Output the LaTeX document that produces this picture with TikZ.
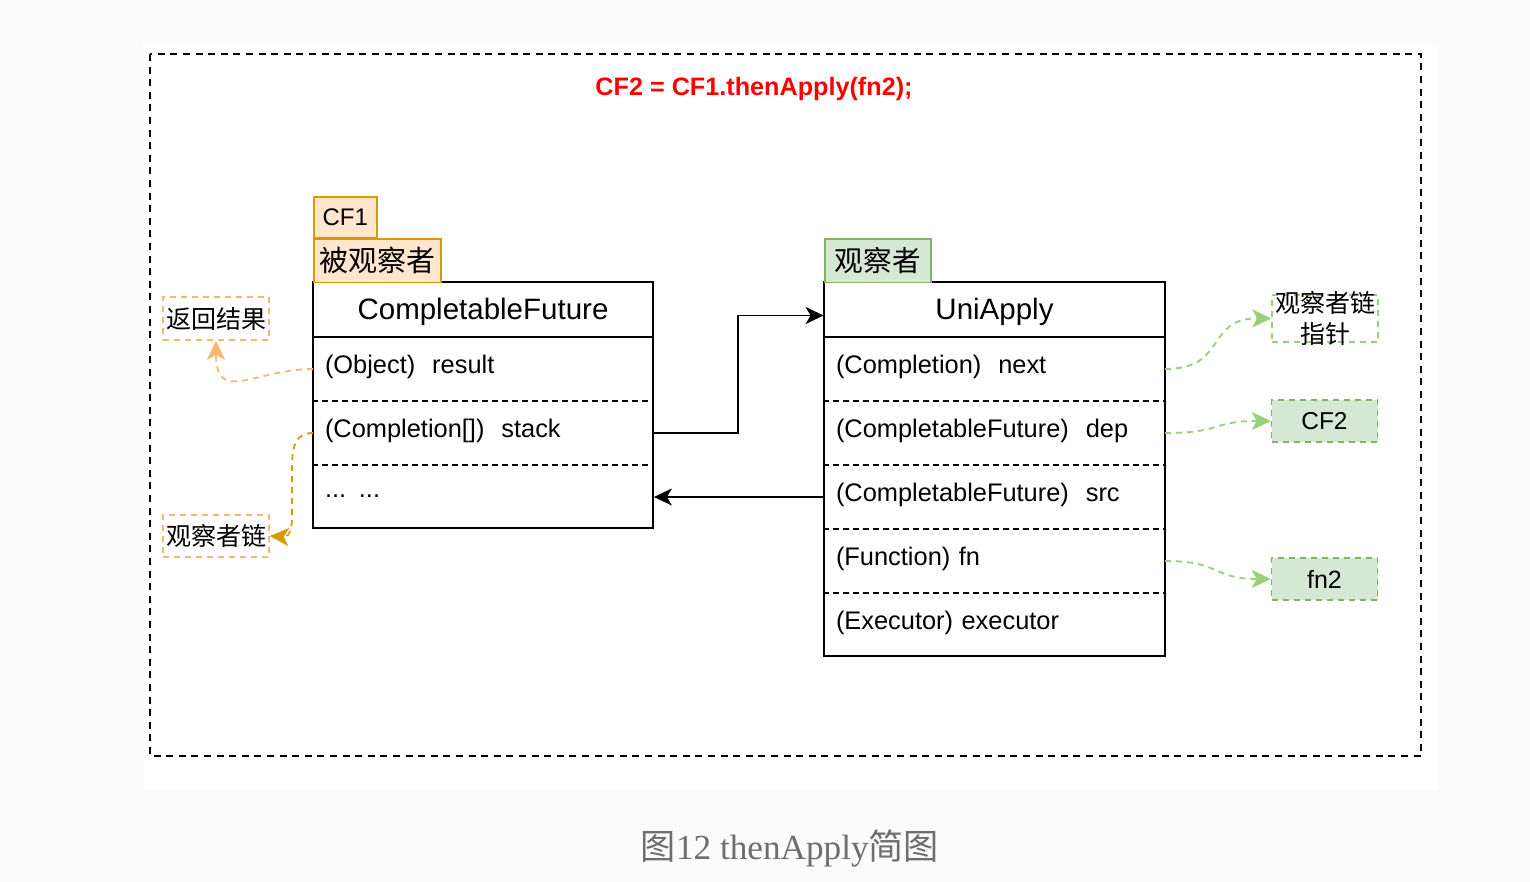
\documentclass[tikz,border=0pt]{standalone}
\usepackage{fontspec}
\setmainfont{Liberation Sans}
\newfontfamily\cjk{Noto Sans CJK SC}
\newfontfamily\capserif{Liberation Serif}
\usetikzlibrary{arrows.meta}
\definecolor{orfill}{HTML}{FFE6CC}
\definecolor{ordraw}{HTML}{D79B00}
\definecolor{orlight}{HTML}{FFB570}
\definecolor{grfill}{HTML}{D5E8D4}
\definecolor{grdraw}{HTML}{82B366}
\definecolor{grlight}{HTML}{97D077}
\definecolor{pagebg}{HTML}{FBFBFB}
\definecolor{capgray}{HTML}{6E6E6E}
\definecolor{titlered}{HTML}{FF0000}
\begin{document}
\begin{tikzpicture}[x=0.5pt,y=-0.5pt,
  classbox/.style={draw=black,line width=0.9pt,minimum width=170pt,inner sep=0pt},
  headtext/.style={font=\fontsize{14.75}{17}\selectfont,minimum width=170pt,minimum height=27.5pt,inner sep=0pt},
  rowtext/.style={font=\fontsize{12.7}{15}\selectfont,minimum width=170pt,minimum height=32pt,text width=158pt,inner xsep=6pt,inner ysep=0pt,align=left},
  rowsep/.style={draw=black,line width=0.75pt,dash pattern=on 3pt off 2pt},
  solidsep/.style={draw=black,line width=0.9pt},
  tagor/.style={draw=ordraw,fill=orfill,line width=0.8pt,inner sep=0pt,anchor=north west},
  taggr/.style={draw=grdraw,fill=grfill,line width=0.8pt,inner sep=0pt,anchor=north west},
  notebox/.style={line width=0.8pt,dash pattern=on 3pt off 2.5pt,inner sep=0pt,font=\cjk\fontsize{12.5}{14}\selectfont,minimum width=53pt},
  conn/.style={draw=black,line width=0.9pt,-{Stealth[length=9pt,width=8.5pt,inset=2.5pt]}},
  curvy/.style={line width=0.9pt,dash pattern=on 3pt off 2.5pt,-{Stealth[length=9.5pt,width=9pt,inset=2.5pt]}},
  frame/.style={draw=black,line width=0.9pt,dash pattern=on 3.5pt off 2.8pt}
]
\useasboundingbox (0,0) rectangle (1530,882);
\fill[pagebg] (0,0) rectangle (1530,882);
\fill[white] (143,45) rectangle (1438,790);
\draw[frame] (150,54) rectangle (1421,756);

% title
\node[text=titlered,font=\bfseries\fontsize{12.6}{15}\selectfont,inner sep=0pt] (title) at (754,89) {CF2 = CF1.thenApply(fn2);};

% ---------- CompletableFuture ----------
\node[classbox,minimum height=123pt] (cf) at (483,405) {};
\node[headtext] (cfh) at (483,312) {CompletableFuture};
\node[rowtext] (cfr1) at (483,367) {(Object)\ \ result};
\node[rowtext] (cfr2) at (483,431) {(Completion[])\ \ stack};
\node[rowtext] (cfr3) at (483,496.5) {... ...};
\draw[solidsep] (cf.west |- 0,337) -- (cf.east |- 0,337);
\draw[rowsep] (cf.west |- 0,401) -- (cf.east |- 0,401);
\draw[rowsep] (cf.west |- 0,465) -- (cf.east |- 0,465);

\node[tagor,minimum width=31.5pt,minimum height=20.5pt,font=\fontsize{12}{14}\selectfont] (cf1tag) at (313,196) {CF1};
\node[tagor,minimum width=63.5pt,minimum height=21.5pt,font=\cjk\fontsize{14.5}{16}\selectfont] (obsd) at (313,238.5) {被观察者};

% ---------- UniApply ----------
\node[classbox,minimum height=187pt,minimum width=170.5pt] (ua) at (994.5,469) {};
\node[headtext,minimum width=170.5pt] (uah) at (994.5,312) {UniApply};
\node[rowtext,minimum width=170.5pt,text width=158.5pt] (uar1) at (994.5,367) {(Completion)\ \ next};
\node[rowtext,minimum width=170.5pt,text width=158.5pt] (uar2) at (994.5,431) {(CompletableFuture)\ \ dep};
\node[rowtext,minimum width=170.5pt,text width=158.5pt] (uar3) at (994.5,495) {(CompletableFuture)\ \ src};
\node[rowtext,minimum width=170.5pt,text width=158.5pt] (uar4) at (994.5,559) {(Function) fn};
\node[rowtext,minimum width=170.5pt,text width=158.5pt] (uar5) at (994.5,622.5) {(Executor) executor};
\draw[solidsep] (ua.west |- 0,337) -- (ua.east |- 0,337);
\draw[rowsep] (ua.west |- 0,401) -- (ua.east |- 0,401);
\draw[rowsep] (ua.west |- 0,465) -- (ua.east |- 0,465);
\draw[rowsep] (ua.west |- 0,529) -- (ua.east |- 0,529);
\draw[rowsep] (ua.west |- 0,593) -- (ua.east |- 0,593);

\node[taggr,minimum width=53pt,minimum height=21.5pt,font=\cjk\fontsize{14.3}{16}\selectfont] (obs) at (824,238.5) {观察者};

% ---------- left notes ----------
\node[notebox,draw=orlight,minimum height=21.5pt] (ret) at (216,318.5) {返回结果};
\node[notebox,draw=orlight,minimum height=21pt] (chain) at (216,536) {观察者链};

% ---------- right notes ----------
\node[notebox,draw=grlight,minimum height=23.5pt] (ptr) at (1325,318.5) {};
\node[inner sep=0pt,align=center,font=\cjk\fontsize{12.5}{15.5}\selectfont] (ptrtext) at (ptr.center) {观察者链\\指针};
\node[notebox,draw=grdraw,fill=grfill,minimum height=21pt,font=\fontsize{12.2}{14}\selectfont] (cf2) at (1324.5,421) {CF2};
\node[notebox,draw=grdraw,fill=grfill,minimum height=21pt,font=\fontsize{12.5}{14}\selectfont] (fn2) at (1324.5,579) {fn2};

% ---------- connectors ----------
\coordinate (stackout) at (653,433);
\coordinate (resultout) at (313,369);
\coordinate (stackin) at (313,433);
\coordinate (srcout) at (824,497);
\coordinate (nextout) at (1165,369);
\coordinate (depout) at (1165,433);
\coordinate (fnout) at (1165,561);
\draw[conn] (stackout) -- ++(85,0) |- ([yshift=-1.75pt]uah.west);
\draw[conn] (srcout) -- (srcout -| cf.east);

\draw[curvy,draw=orlight] (resultout) .. controls (255,369) and (216,405) .. (ret.south);
\draw[curvy,draw=ordraw] (stackin) .. controls (296,433) and (292,445) .. (292,468) -- (292,515) .. controls (292,533) and (288,537) .. (chain.east);

\draw[curvy,draw=grlight] (nextout) .. controls (1228,369) and (1205,318) .. (ptr.west);
\draw[curvy,draw=grlight] (depout) .. controls (1222,433) and (1212,421) .. (cf2.west);
\draw[curvy,draw=grlight] (fnout) .. controls (1222,561) and (1212,579) .. (fn2.west);

% caption
\node[text=capgray,inner sep=0pt,font=\capserif\fontsize{17.6}{20}\selectfont] (cap) at (790,848) {{\cjk 图}12 thenApply{\cjk 简图}};
\end{tikzpicture}
\end{document}
